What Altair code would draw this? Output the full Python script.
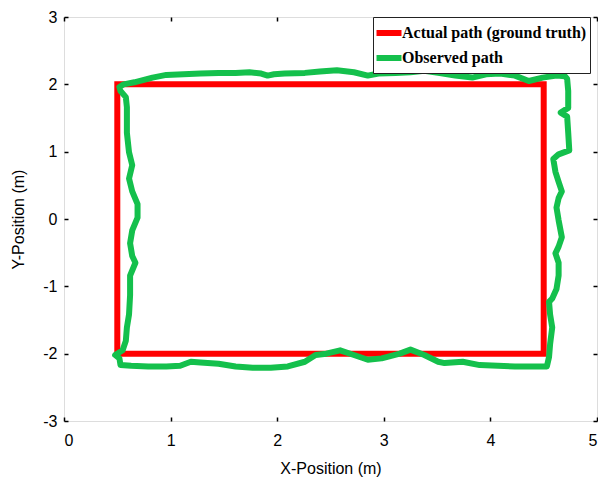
import altair as alt
import pandas as pd

# Actual path (ground truth) - rectangle corners
red_x = [0.5, 4.5, 4.5, 0.5, 0.5]
red_y = [2.0, 2.0, -2.0, -2.0, 2.0]

# Observed path
green_x = [0.52, 0.56, 0.66, 0.83, 0.96, 1.12, 1.28, 1.45, 1.61, 1.74, 1.85, 1.91, 1.97, 2.07, 2.26, 2.40,
           2.56, 2.72, 2.85, 2.95, 3.11, 3.25, 3.38, 3.51, 3.67, 3.83, 3.96, 4.09, 4.23, 4.36, 4.49, 4.62,
           4.70, 4.72, 4.73, 4.73, 4.66, 4.72, 4.73, 4.74, 4.64, 4.59, 4.61, 4.64, 4.67, 4.64, 4.62, 4.64,
           4.67, 4.64, 4.61, 4.64, 4.64, 4.62, 4.58, 4.55, 4.56, 4.58, 4.56, 4.55, 4.53,
           4.23, 3.90, 3.74, 3.57, 3.51, 3.38, 3.25, 3.15, 2.98, 2.85, 2.72, 2.59, 2.46, 2.36, 2.26, 2.10,
           1.94, 1.77, 1.61, 1.45, 1.28, 1.19, 1.09, 0.96, 0.79, 0.63, 0.53, 0.52, 0.48,
           0.55, 0.58, 0.59, 0.61, 0.62, 0.62, 0.67, 0.64, 0.62, 0.64, 0.69, 0.69, 0.64, 0.61, 0.64, 0.61,
           0.59, 0.59, 0.58, 0.53, 0.52]
green_y = [1.96, 2.00, 2.03, 2.10, 2.14, 2.15, 2.16, 2.17, 2.17, 2.18, 2.16, 2.13, 2.15, 2.16, 2.17, 2.19,
           2.21, 2.18, 2.13, 2.16, 2.17, 2.18, 2.20, 2.17, 2.13, 2.10, 2.15, 2.16, 2.13, 2.05, 2.10, 2.13,
           2.12, 2.08, 1.90, 1.65, 1.58, 1.52, 1.28, 1.02, 0.96, 0.89, 0.70, 0.55, 0.41, 0.31, 0.17, -0.02,
           -0.27, -0.41, -0.51, -0.65, -0.84, -1.04, -1.18, -1.23, -1.42, -1.61, -1.86, -2.05, -2.19,
           -2.19, -2.17, -2.12, -2.14, -2.12, -2.02, -1.94, -2.00, -2.07, -2.09, -2.02, -1.95, -2.00, -2.02, -2.12, -2.19,
           -2.21, -2.21, -2.19, -2.15, -2.13, -2.12, -2.18, -2.19, -2.19, -2.18, -2.17, -2.07, -2.02,
           -1.95, -1.81, -1.61, -1.42, -1.13, -0.84, -0.65, -0.55, -0.36, -0.17, 0.02, 0.22, 0.41, 0.60, 0.80, 0.99,
           1.28, 1.66, 1.81, 1.90, 1.96]

series_names = ["Actual path (ground truth)", "Observed path"]
series_colors = ["#ff0000", "#14c04c"]
x_ticks = [0, 1, 2, 3, 4, 5]
y_ticks = [-3, -2, -1, 0, 1, 2, 3]

red_df = pd.DataFrame({"x": red_x, "y": red_y, "series": series_names[0], "i": range(len(red_x))})
green_df = pd.DataFrame({"x": green_x, "y": green_y, "series": series_names[1], "i": range(len(green_x))})

xscale = alt.Scale(domain=[0, 5], nice=False, zero=False)
yscale = alt.Scale(domain=[-3, 3], nice=False, zero=False)
color = alt.Color("series:N",
                  scale=alt.Scale(domain=series_names, range=series_colors),
                  legend=alt.Legend(title=None, orient="none", legendX=309, legendY=0, zindex=1,
                                    symbolType="M-1.25,0H1.25", symbolStrokeWidth=6, symbolSize=400,
                                    symbolOffset=0,
                                    labelFont="Liberation Serif", labelFontWeight="bold",
                                    labelFontSize=16, labelColor="black", labelLimit=400,
                                    strokeColor="#222", fillColor="white", padding=3,
                                    rowPadding=0, labelOffset=0))

common_axis = dict(grid=False, domain=False, tickSize=4, offset=-4, tickColor="black",
                   tickWidth=1.5)
label_expr = "'' + datum.value"

red = alt.Chart(red_df).mark_line(strokeWidth=6, strokeJoin="miter", strokeCap="square").encode(
    x=alt.X("x:Q", scale=xscale,
            axis=alt.Axis(orient="bottom", values=x_ticks, title="X-Position (m)", labelPadding=11,
                          labelExpr=label_expr,
                          labelFont="Liberation Sans", labelFontSize=16, labelColor="black",
                          titleFont="Liberation Sans", titleFontSize=16, titleFontWeight="normal",
                          titleColor="black", titlePadding=12, **common_axis)),
    y=alt.Y("y:Q", scale=yscale,
            axis=alt.Axis(orient="left", values=y_ticks, title="Y-Position (m)", labelPadding=7,
                          labelExpr=label_expr,
                          labelFont="Liberation Sans", labelFontSize=16, labelColor="black",
                          titleFont="Liberation Sans", titleFontSize=16, titleFontWeight="normal",
                          titleColor="black", titlePadding=16, **common_axis)),
    color=color,
    order="i:Q",
)

green = alt.Chart(green_df).mark_line(strokeWidth=6, strokeJoin="round", strokeCap="round").encode(
    x=alt.X("x:Q", scale=xscale,
            axis=alt.Axis(orient="top", values=x_ticks, labels=False, title=None, **common_axis)),
    y=alt.Y("y:Q", scale=yscale,
            axis=alt.Axis(orient="right", values=y_ticks, labels=False, title=None, **common_axis)),
    color=color,
    order="i:Q",
)

chart = alt.layer(red, green).resolve_scale(x="independent", y="independent").properties(
    width=533, height=404,
    autosize=alt.AutoSizeParams(type="none"),
    padding={"left": 56, "top": 9, "right": 1, "bottom": 57},
).configure_view(stroke="black", strokeWidth=1.5).configure(background="white")

chart.save("out.html", embed_options={"renderer": "svg", "actions": False})
